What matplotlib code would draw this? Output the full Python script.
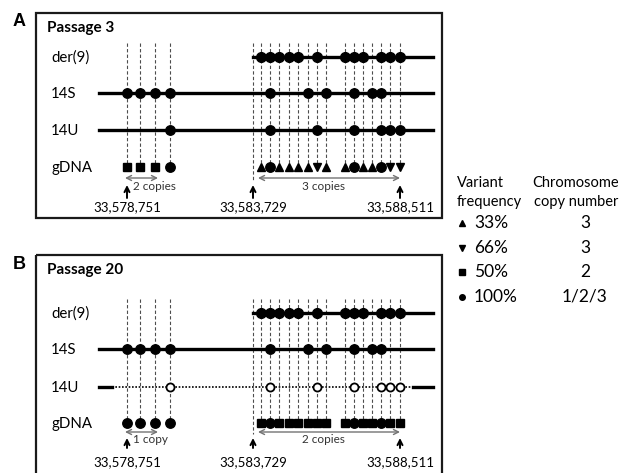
import matplotlib
matplotlib.use("Agg")
import matplotlib.pyplot as plt
from matplotlib.patches import Rectangle

plt.rcParams['font.family'] = ['Lato', 'DejaVu Sans']

# variant positions along the schematic (left block + right block)
snp_pos = [127, 140, 155, 170,
           261, 270, 279, 289, 298, 308, 317, 326,
           345, 354, 363, 372, 381, 390, 400]
row_names = ["der(9)", "14S", "14U", "gDNA"]

# presence of the variant on each chromosome
der9 = [0, 0, 0, 0, 1, 1, 1, 1, 1, 0, 1, 0, 1, 1, 1, 0, 1, 1, 1]
chr14s = [1, 1, 1, 1, 0, 1, 0, 0, 0, 1, 0, 1, 0, 1, 0, 1, 1, 0, 0]
chr14u = [0, 0, 0, 1, 0, 1, 0, 0, 0, 0, 1, 0, 0, 1, 0, 0, 1, 1, 1]

# gDNA variant frequency per variant
gdna_p3 = ["50", "50", "50", "100",
           "33", "100", "33", "33", "33", "33", "66", "33",
           "33", "100", "33", "33", "100", "66", "66"]
gdna_p20 = ["100", "100", "100", "100",
            "50", "100", "50", "50", "50", "50", "50", "50",
            "50", "100", "50", "50", "100", "50", "50"]

breakpoints = [127, 253, 400]
breakpoint_labels = ["33,578,751", "33,583,729", "33,588,511"]
copies_p3 = ["2 copies", "3 copies"]
copies_p20 = ["1 copy", "2 copies"]

legend_freq = ["33%", "66%", "50%", "100%"]
legend_copy = ["3", "3", "2", "1/2/3"]
legend_keys = ["33", "66", "50", "100"]

marker_of = {"33": "^", "66": "v", "50": "s", "100": "o"}
size_of = {"33": 6.2, "66": 6.2, "50": 5.8, "100": 6.8}

fig = plt.figure(figsize=(6.19, 4.73), dpi=100)
ax = fig.add_axes([0, 0, 1, 1])
ax.set_xlim(0, 619)
ax.set_ylim(473, 0)
ax.axis("off")

dash = dict(color="0.3", lw=0.8, ls=(0, (3, 2)), zorder=1)


def draw_panel(letter, title, top, rows_y, gdna, copies, lost_14u,
               arrow_top, arrow_bot, label_y, copy_y, copy_text_y):
    ax.add_patch(Rectangle((36, top), 406, 205 if letter == "A" else 240,
                           fill=False, lw=1.6, ec="0.1", zorder=0))
    ax.text(19, top + 9, letter, fontsize=13, fontweight="bold",
            family="Liberation Sans", ha="center", va="center")
    ax.text(47, top + 15, title, fontsize=11, fontweight="bold", va="center")
    y_der, y_s, y_u, y_g = rows_y
    vtop = y_der - 14
    for name, y in zip(row_names, rows_y):
        ax.text(51, y + 1, name, fontsize=10.8, va="center")

    # vertical dashed lines
    for x in snp_pos:
        ax.plot([x, x], [vtop, y_g], **dash)
    ax.plot([breakpoints[1], breakpoints[1]], [vtop, arrow_top - 4], **dash)

    # chromosome lines
    ax.plot([253, 433], [y_der, y_der], color="black", lw=2.4, zorder=2)
    ax.plot([99, 433], [y_s, y_s], color="black", lw=2.4, zorder=2)
    if lost_14u:
        ax.plot([99, 112], [y_u, y_u], color="black", lw=2.4, zorder=2)
        ax.plot([112, 413], [y_u, y_u], color="black", lw=1.2,
                ls=(0, (1, 1)), zorder=2)
        ax.plot([413, 433], [y_u, y_u], color="black", lw=2.4, zorder=2)
    else:
        ax.plot([99, 433], [y_u, y_u], color="black", lw=2.4, zorder=2)

    for x, d, s, u in zip(snp_pos, der9, chr14s, chr14u):
        if d:
            ax.plot(x, y_der, "o", color="black", ms=7.0, zorder=3)
        if s:
            ax.plot(x, y_s, "o", color="black", ms=6.8, zorder=3)
        if u:
            if lost_14u:
                ax.plot(x, y_u, "o", mfc="white", mec="black", mew=1.3,
                        ms=5.8, zorder=3)
            else:
                ax.plot(x, y_u, "o", color="black", ms=6.8, zorder=3)

    for x, f in zip(snp_pos, gdna):
        ax.plot(x, y_g, marker_of[f], color="black", ms=size_of[f], zorder=3)

    # breakpoint arrows and coordinates
    for x, lab in zip(breakpoints, breakpoint_labels):
        ax.annotate("", xy=(x, arrow_top), xytext=(x, arrow_bot),
                    arrowprops=dict(arrowstyle="->", color="black", lw=1.4,
                                    shrinkA=0, shrinkB=0, mutation_scale=9))
        ax.text(x, label_y, lab, fontsize=9.5, ha="center", va="center")

    # copy number spans
    for (x0, x1, tx, ha), txt in zip([(125, 158, 133, "left"),
                                      (258, 400, 323, "center")], copies):
        ax.annotate("", xy=(x0, copy_y), xytext=(x1, copy_y),
                    arrowprops=dict(arrowstyle="<->", color="0.45", lw=1.0,
                                    shrinkA=0, shrinkB=0, mutation_scale=9))
        ax.text(tx, copy_text_y, txt, fontsize=8.5, ha=ha, va="center",
                color="0.2")


draw_panel("A", "Passage 3", 13, [57, 93, 130, 167], gdna_p3, copies_p3,
           False, 185, 198, 207, 178, 186)
draw_panel("B", "Passage 20", 255, [313, 349, 387, 423], gdna_p20, copies_p20,
           True, 438, 448, 462, 432, 439)

# legend
ax.text(457, 183, "Variant", fontsize=10.5, va="center")
ax.text(457, 202, "frequency", fontsize=10.5, va="center")
ax.text(576, 183, "Chromosome", fontsize=10.5, va="center", ha="center")
ax.text(576, 202, "copy number", fontsize=10.5, va="center", ha="center")
for i, (k, fr, cn) in enumerate(zip(legend_keys, legend_freq, legend_copy)):
    y = 223 + i * 24.5
    ax.plot(462, y, marker_of[k], color="black",
            ms=4.8 if k != "100" else 4.0)
    ax.text(474, y, fr, fontsize=12.5, va="center")
    ax.text(585, y, cn, fontsize=12.5, va="center", ha="center")

fig.savefig("out.png", dpi=100)
